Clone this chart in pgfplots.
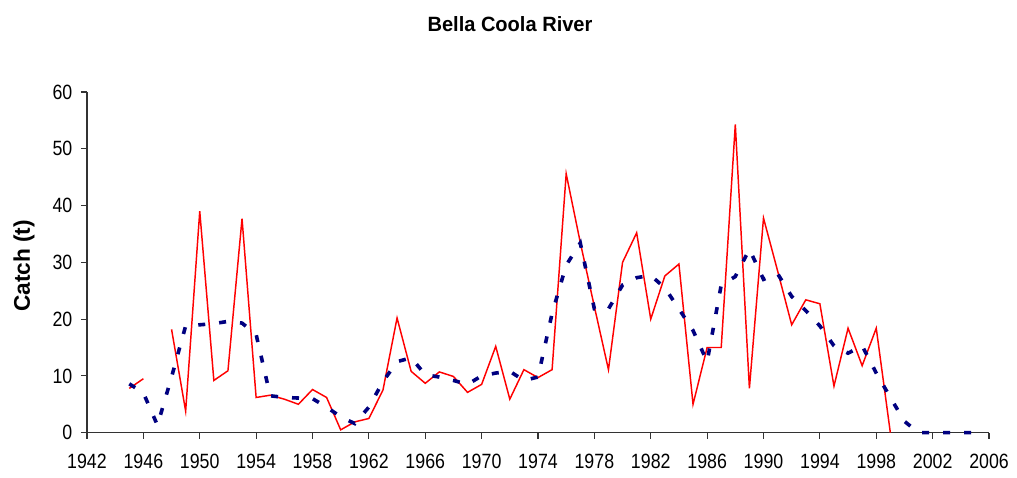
\documentclass[border=0pt]{standalone}
\usepackage{fontspec}
\setmainfont{Liberation Sans}[FakeStretch=0.86]
\newfontfamily\titlefont{Liberation Sans}[FakeStretch=0.97]
\newfontfamily\labfont{Liberation Sans}
\usepackage{pgfplots}
\pgfplotsset{compat=1.18}
\usepackage{pgfplotstable}

% annual catch (red line), 1947 missing
\pgfplotstableread{
year catch
1945 7.8
1946 9.5
1947 nan
1948 18.2
1949 3.8
1950 39.0
1951 9.2
1952 10.9
1953 37.7
1954 6.2
1955 6.6
1956 5.9
1957 5.0
1958 7.6
1959 6.2
1960 0.5
1961 1.9
1962 2.5
1963 7.5
1964 20.2
1965 10.8
1966 8.7
1967 10.7
1968 9.9
1969 7.1
1970 8.5
1971 15.2
1972 5.9
1973 11.1
1974 9.7
1975 11.1
1976 45.6
1977 33.5
1978 22.2
1979 11.1
1980 30.0
1981 35.2
1982 20.0
1983 27.6
1984 29.7
1985 5.0
1986 15.0
1987 15.0
1988 54.3
1989 7.8
1990 37.8
1991 28.5
1992 19.0
1993 23.4
1994 22.7
1995 8.2
1996 18.4
1997 11.8
1998 18.4
1999 0
}\catchdata

% running average (dashed line)
\pgfplotstableread{
year avg
1945 8.6
1946 7.0
1947 1.3
1948 9.8
1949 18.8
1950 19.0
1951 19.2
1952 19.6
1953 19.3
1954 17.3
1955 6.5
1956 6.2
1957 6.1
1958 6.0
1959 4.5
1960 2.8
1961 1.6
1962 4.5
1963 9.0
1964 12.5
1965 13.2
1966 10.2
1967 9.8
1968 9.2
1969 8.5
1970 10.0
1971 10.5
1972 10.8
1973 9.2
1974 9.8
1975 21.0
1976 29.5
1977 33.4
1978 21.8
1979 21.8
1980 26.0
1981 27.3
1982 27.7
1983 25.5
1984 21.8
1985 18.0
1986 12.5
1987 26.0
1988 27.5
1989 32.3
1990 27.0
1991 28.0
1992 24.0
1993 21.5
1994 18.8
1995 15.3
1996 14.0
1997 15.3
1998 10.5
1999 6.2
2000 2.0
2001 0
2002 0
2003 0
2004 0
2005 0
}\avgdata

\definecolor{navyline}{RGB}{0,0,128}

\begin{document}
\begin{tikzpicture}[x=1pt,y=1pt]
\useasboundingbox (-65.25,-33.975) rectangle (697.5,324.5);
\begin{axis}[
  at={(0,0)}, anchor=south west,
  scale only axis, width=676.5pt, height=255.5pt,
  xmin=1942, xmax=2006, ymin=0, ymax=60,
  axis x line*=bottom, axis y line*=left,
  axis line style={-, black!80, line width=0.9pt},
  xtick={1942,1946,...,2006}, ytick={0,10,...,60},
  tick align=outside, major tick length=4.5pt,
  tick style={black!80, line width=0.9pt},
  tick label style={font=\fontsize{15.5}{17}\selectfont},
  /pgf/number format/assume math mode=true,
  x tick label style={/pgf/number format/1000 sep={}, yshift=-8pt},
  y tick label style={xshift=-3pt},
  clip=false,
  unbounded coords=jump,
]
\addplot[red, line width=1.1pt] table[x=year,y=catch]{\catchdata};
\addplot[navyline, line width=2.7pt, dash pattern=on 5.25pt off 10.5pt] table[x=year,y=avg]{\avgdata};
\end{axis}
\node[font=\titlefont\bfseries\fontsize{15.5}{18}\selectfont, anchor=base] at (317.25,300.75) {Bella Coola River};
\node[font=\labfont\bfseries\fontsize{17}{20}\selectfont, rotate=90] at (-47.25,125) {Catch (t)};
\end{tikzpicture}
\end{document}
